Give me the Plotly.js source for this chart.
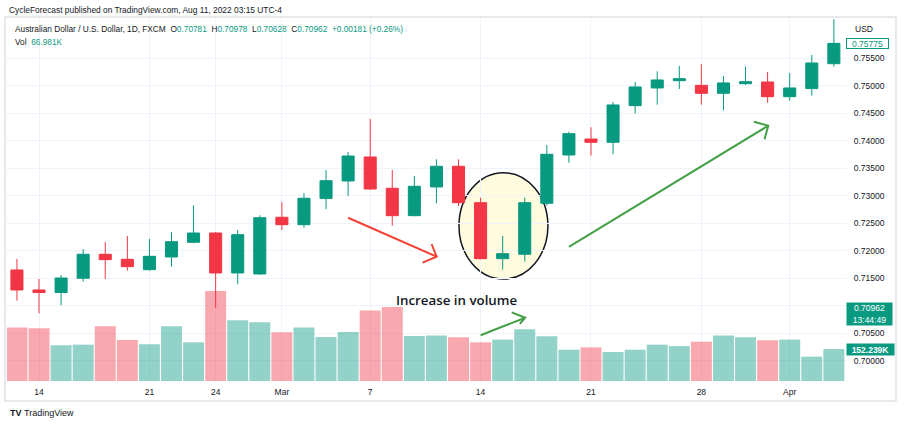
<!DOCTYPE html>
<html>
<head>
<meta charset="utf-8">
<script src="https://cdn.plot.ly/plotly-3.0.1.min.js"></script>
<style>html,body{margin:0;padding:0;background:#fff;}#chart{width:904px;height:426px;}</style>
</head>
<body>
<div id="chart"></div>
<script>
// ---------- data ----------
const dates = ['2022-02-11','2022-02-14','2022-02-15','2022-02-16','2022-02-17','2022-02-18',
  '2022-02-21','2022-02-22','2022-02-23','2022-02-24','2022-02-25','2022-02-28',
  '2022-03-01','2022-03-02','2022-03-03','2022-03-04','2022-03-07','2022-03-08',
  '2022-03-09','2022-03-10','2022-03-11','2022-03-14','2022-03-15','2022-03-16',
  '2022-03-17','2022-03-18','2022-03-21','2022-03-22','2022-03-23','2022-03-24',
  '2022-03-25','2022-03-28','2022-03-29','2022-03-30','2022-03-31','2022-04-01',
  '2022-04-04','2022-04-05'];
const openP  = [0.71655,0.71291,0.71245,0.71504,0.71940,0.71849,0.71660,0.71891,0.72158,0.72327,
  0.71600,0.71582,0.72613,0.72478,0.72953,0.73273,0.73709,0.73140,0.72642,0.73164,
  0.73540,0.72878,0.71860,0.71940,0.72867,0.73745,0.74036,0.73976,0.74642,0.74964,
  0.75096,0.75012,0.74867,0.75042,0.75073,0.74805,0.74953,0.75405];
const highP  = [0.71855,0.71491,0.71564,0.72036,0.72164,0.72273,0.72218,0.72340,0.72831,0.72340,
  0.72382,0.72649,0.72890,0.73049,0.73473,0.73800,0.74400,0.73473,0.73364,0.73667,
  0.73667,0.72969,0.72273,0.72969,0.73927,0.74169,0.74250,0.74709,0.75073,0.75267,
  0.75364,0.75395,0.75182,0.75351,0.75255,0.75236,0.75564,0.76213];
const lowP   = [0.71097,0.70867,0.71013,0.71442,0.71491,0.71642,0.71640,0.71715,0.72140,0.70964,
  0.71395,0.71570,0.72382,0.72424,0.72758,0.73000,0.73110,0.72460,0.72630,0.72867,
  0.72818,0.71850,0.71660,0.71806,0.72824,0.73605,0.73733,0.73758,0.74496,0.74660,
  0.74945,0.74660,0.74558,0.75018,0.74696,0.74733,0.74824,0.75351];
const closeP = [0.71291,0.71245,0.71509,0.71940,0.71842,0.71715,0.71903,0.72169,0.72327,0.71600,
  0.72296,0.72605,0.72478,0.72958,0.73278,0.73727,0.73127,0.72642,0.73176,0.73540,
  0.72878,0.71860,0.71951,0.72878,0.73758,0.74133,0.73976,0.74655,0.74982,0.75109,
  0.75133,0.74867,0.75055,0.75078,0.74805,0.74964,0.75418,0.75775];
const volume = [255000,251000,170000,173000,260000,195000,175000,260000,184000,428000,
  289000,279000,232000,255000,209000,233000,336000,352000,214000,217000,
  208000,184000,197000,246000,213000,149000,160000,138000,149000,173000,
  166000,187000,217000,208000,194000,197000,116000,152239];
const tickDates  = ['2022-02-14','2022-02-21','2022-02-24','2022-03-01','2022-03-07','2022-03-14','2022-03-21','2022-03-28','2022-04-01'];
const tickLabels = ['14','21','24','Mar','7','14','21','28','Apr'];
const priceTicks = [0.700,0.705,0.710,0.715,0.720,0.725,0.730,0.735,0.740,0.745,0.750,0.755];
const lastPrice = 0.75775;
const headerText = 'CycleForecast published on TradingView.com, Aug 11, 2022 03:15 UTC-4';
const symbolText = 'Australian Dollar / U.S. Dollar, 1D, FXCM';
const ohlcLegend = {O:'0.70781', H:'0.70978', L:'0.70628', C:'0.70962', chg:'+0.00181 (+0.26%)'};
const volLegend = '66.981K';
const markPrice = 0.70962, markTime = '13:44:49';

// ---------- build ----------
const UP = '#089981', DN = '#f23645';
const VUP = 'rgba(8,153,129,0.44)', VDN = 'rgba(242,54,69,0.43)';
const TXT = '#131722';
const FONT = 'Liberation Sans, Arial, sans-serif';
const xIdx = dates.map((d, i) => i);
const tickIdx = tickDates.map(d => dates.indexOf(d));
const volColors = closeP.map((c, i) => c >= openP[i] ? VUP : VDN);

const candleTrace = {
  type: 'candlestick', x: xIdx, open: openP, high: highP, low: lowP, close: closeP,
  yaxis: 'y', xaxis: 'x', whiskerwidth: 0,
  increasing: {line: {color: UP, width: 1}, fillcolor: UP},
  decreasing: {line: {color: DN, width: 1}, fillcolor: DN},
  hoverinfo: 'skip', showlegend: false
};
const volTrace = {
  type: 'bar', x: xIdx, y: volume, yaxis: 'y2', xaxis: 'x',
  marker: {color: volColors, line: {width: 0}},
  hoverinfo: 'skip', showlegend: false
};

const S = '\u00A0';
const teal = s => '<span style="color:' + UP + '">' + s + '</span>';
const line2 = symbolText + S + S + 'O' + teal(ohlcLegend.O) + S + S + 'H' + teal(ohlcLegend.H) + S + S +
  'L' + teal(ohlcLegend.L) + S + S + 'C' + teal(ohlcLegend.C) + S + S + teal(ohlcLegend.chg);
const line3 = 'Vol' + S + S + teal(volLegend);

const lastVol = volume[volume.length - 1];
const fmtK = v => (v / 1000).toFixed(3) + 'K';
// price labels hidden behind the live-price marker box
const priceText = priceTicks.map(v => Math.abs(v - markPrice) < 0.002 ? '' : v.toFixed(5));

const layout = {
  width: 904, height: 426,
  margin: {l: 7, r: 58, t: 18, b: 45},
  paper_bgcolor: '#fff', plot_bgcolor: '#fff',
  showlegend: false, hovermode: false,
  bargap: 0.05, boxgap: 0.22,
  font: {family: FONT, size: 8.5, color: TXT},
  xaxis: {
    type: 'linear', range: [-0.45, 37.55], rangeslider: {visible: false},
    tickvals: tickIdx, ticktext: tickLabels, showgrid: true, gridcolor: '#f0f3fa', gridwidth: 1,
    zeroline: false, showline: false, ticks: '', tickfont: {family: FONT, size: 8.5, color: TXT},
    ticklabelstandoff: 4
  },
  yaxis: {
    side: 'right', range: [0.69636, 0.76236],
    tickvals: priceTicks, ticktext: priceText,
    showgrid: true, gridcolor: '#f0f3fa', gridwidth: 1, zeroline: false, showline: false,
    ticks: 'outside', ticklen: 5, tickcolor: 'rgba(0,0,0,0)',
    tickfont: {family: FONT, size: 8.5, color: TXT}
  },
  yaxis2: {overlaying: 'y', range: [0, 1727000], visible: false, showgrid: false, zeroline: false},
  shapes: [
    {type: 'rect', xref: 'paper', yref: 'paper', x0: -0.0024, x1: 1.0596, y0: -0.0551, y1: 1.0028,
     line: {color: '#dfe2e8', width: 1.5}, fillcolor: 'rgba(0,0,0,0)', layer: 'above'},
    {type: 'circle', xref: 'x', yref: 'y', x0: 20.02, x1: 24.05, y0: 0.71491, y1: 0.73424,
     fillcolor: 'rgba(255,247,190,0.5)', line: {color: '#131722', width: 1.5}, layer: 'below'},
    {type: 'path', xref: 'x', yref: 'y', layer: 'above', line: {color: '#f44336', width: 2},
     path: 'M15.0,0.72605 L19.01,0.71896 M18.78,0.72127 L19.01,0.71896 L18.37,0.71787'},
    {type: 'path', xref: 'x', yref: 'y', layer: 'above', line: {color: '#43a047', width: 2},
     path: 'M25.0,0.72073 L34.03,0.74278 M33.38,0.74351 L34.03,0.74278 L33.86,0.74031'},
    {type: 'path', xref: 'x', yref: 'y', layer: 'above', line: {color: '#43a047', width: 2},
     path: 'M21.0,0.70467 L23.02,0.70787 M22.41,0.70885 L23.02,0.70787 L22.78,0.70673'}
  ],
  annotations: [
    {xref: 'paper', yref: 'paper', x: 0, y: 1.022, xanchor: 'left', yanchor: 'middle', showarrow: false,
     text: headerText, font: {family: FONT, size: 8.4, color: TXT}},
    {xref: 'paper', yref: 'paper', x: 0.0072, y: 0.969, xanchor: 'left', yanchor: 'middle', showarrow: false,
     text: line2, font: {family: FONT, size: 8.3, color: TXT}},
    {xref: 'paper', yref: 'paper', x: 0.0072, y: 0.934, xanchor: 'left', yanchor: 'middle', showarrow: false,
     text: line3, font: {family: FONT, size: 8.3, color: TXT}},
    {xref: 'paper', yref: 'paper', x: 1.0083, y: 0.9697, xanchor: 'left', yanchor: 'middle', showarrow: false,
     text: 'USD', font: {family: FONT, size: 8.5, color: TXT}},
    {xref: 'paper', yref: 'y', x: 1, y: lastPrice, xanchor: 'left', yanchor: 'middle', showarrow: false,
     text: lastPrice.toFixed(5), font: {family: FONT, size: 8.5, color: UP},
     bgcolor: '#fff', bordercolor: UP, borderwidth: 1, borderpad: 0, width: 41, height: 9},
    {xref: 'paper', yref: 'y', x: 1, y: markPrice, xanchor: 'left', yanchor: 'top', yshift: 6, showarrow: false,
     text: markPrice.toFixed(5) + '<br>' + markTime, font: {family: FONT, size: 8.5, color: '#fff'},
     bgcolor: UP, borderpad: 0, width: 45, height: 22},
    {xref: 'paper', yref: 'y2', x: 1, y: lastVol, xanchor: 'left', yanchor: 'middle', showarrow: false,
     text: fmtK(lastVol), font: {family: FONT, size: 8.5, color: '#fff', weight: 'bold'},
     bgcolor: UP, borderpad: 0, width: 47, height: 11},
    {xref: 'x', yref: 'y', x: 19.93, y: 0.71109, xanchor: 'center', yanchor: 'middle', showarrow: false,
     text: 'Increase in volume', font: {family: 'Open Sans, sans-serif', size: 13.3, color: TXT, weight: 600}},
    {xref: 'paper', yref: 'paper', x: 0.001, y: -0.088, xanchor: 'left', yanchor: 'middle', showarrow: false,
     text: '<b>TV</b>' + S + 'TradingView', font: {family: FONT, size: 9, color: TXT}}
  ]
};

Plotly.newPlot('chart', [candleTrace, volTrace], layout, {staticPlot: true, displayModeBar: false});
</script>
</body>
</html>
